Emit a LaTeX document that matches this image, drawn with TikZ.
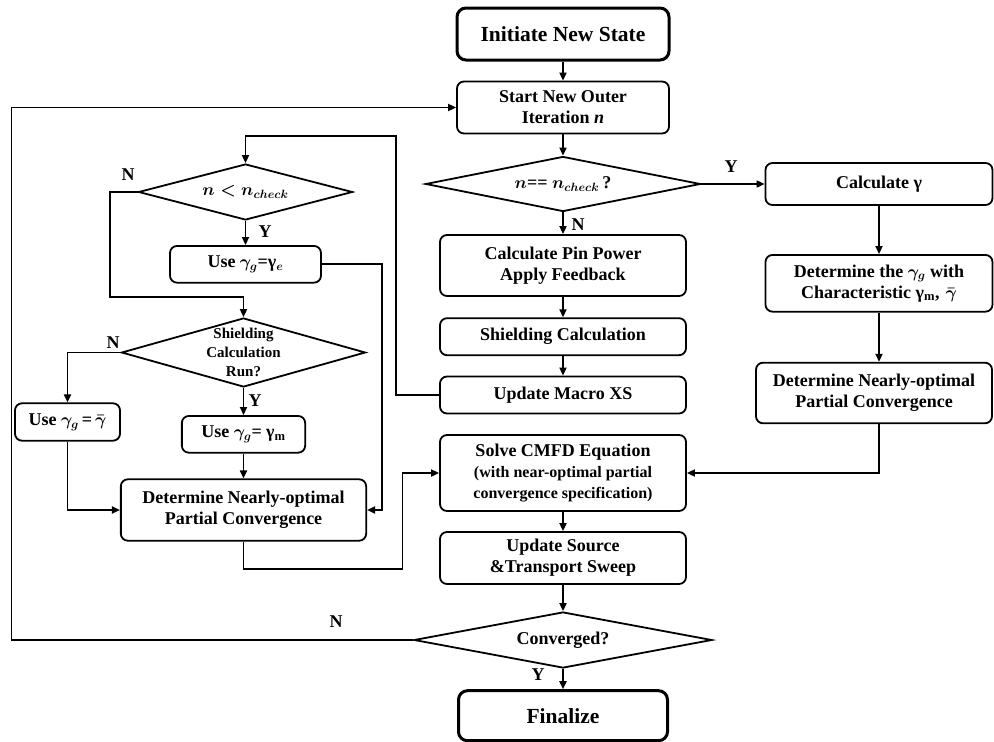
\documentclass[tikz,border=0pt]{standalone}
\usepackage{fontspec}
\setmainfont{Liberation Serif}
\usepackage{amsmath}
\usetikzlibrary{shapes.geometric,arrows.meta}
\begin{document}
\begin{tikzpicture}[x=1pt,y=-1pt,
  box/.style={draw, line width=1.8pt, rounded corners=7pt, align=center, inner sep=0pt,
    font=\fontsize{18}{21}\selectfont\bfseries\boldmath},
  term/.style={box, line width=3pt, rounded corners=9pt,
    font=\fontsize{21.5}{25}\selectfont\bfseries\boldmath},
  dia/.style={draw, line width=1.8pt, diamond, inner sep=0pt},
  diatext/.style={align=center, inner sep=0pt, font=\fontsize{18}{21}\selectfont\bfseries\boldmath},
  lbl/.style={font=\fontsize{18}{21}\selectfont\bfseries},
  arr/.style={line width=1.8pt, -{Triangle[length=8pt,width=7pt]}},
]
\useasboundingbox (0,0) rectangle (994,742);

% centre column
\node[term, minimum width=212, minimum height=52] (init) at (563,34) {Initiate New State};
\node[box, minimum width=212, minimum height=52] (start) at (563,107.5) {Start New Outer\\Iteration \textit{n}};
\node[dia, minimum width=275, minimum height=55] (d1) at (563,184) {};
\node[diatext] (d1t) at (d1) {$n$== $n_{check}$\,?};
\node[box, minimum width=246, minimum height=61] (pin) at (563,265.5) {Calculate Pin Power\\Apply Feedback};
\node[box, minimum width=246, minimum height=37] (shield) at (563,336.7) {Shielding Calculation};
\node[box, minimum width=246, minimum height=37] (macro) at (563,395) {Update Macro XS};
\node[box, minimum width=246, minimum height=76] (cmfd) at (563,473) {Solve CMFD Equation\\\fontsize{16}{19}\selectfont(with near-optimal partial\\\fontsize{16}{19}\selectfont convergence specification)};
\node[box, minimum width=246, minimum height=52] (src) at (563,558) {Update Source\\\&Transport Sweep};
\node[dia, minimum width=298, minimum height=56] (conv) at (563,640) {};
\node[diatext] (convt) at (conv) {Converged?};
\node[term, minimum width=209, minimum height=50] (final) at (563,715.7) {Finalize};

% right column
\node[box, minimum width=227, minimum height=42] (calcg) at (879,184) {Calculate γ};
\node[box, minimum width=227, minimum height=56.7] (detg) at (879,283.3) {Determine the $\gamma_g$ with\\Characteristic γ\textsubscript{m},\,\,$\bar{\gamma}$};
\node[box, minimum width=236, minimum height=60.6] (detr) at (874,393) {Determine Nearly-optimal\\Partial Convergence};

% left column
\node[dia, minimum width=214, minimum height=56] (d2) at (245.5,192) {};
\node[diatext] (d2t) at (d2) {$n < n_{check}$};
\node[box, minimum width=151, minimum height=36.7] (usee) at (245.5,264.3) {Use $\gamma_g$=γ$_{e}$};
\node[dia, minimum width=244, minimum height=69] (d3) at (243.5,352.5) {};
\node[diatext, font=\fontsize{15}{19}\selectfont\bfseries] (d3t) at (d3) {Shielding\\Calculation\\Run?};
\node[box, minimum width=105, minimum height=37.4] (usebar) at (67.5,422) {Use $\gamma_g$\,=\,$\bar{\gamma}$};
\node[box, minimum width=123.3, minimum height=36.7] (usem) at (243.5,434.3) {Use $\gamma_g$= γ\textsubscript{m}};
\node[box, minimum width=245.3, minimum height=61.4] (detl) at (243.5,510) {Determine Nearly-optimal\\Partial Convergence};

% waypoints
\coordinate (loopL) at (11.4,0);
\coordinate (rv) at (396,136);
\coordinate (nv) at (110,296.7);
\coordinate (ev) at (381.7,0);
\coordinate (bl) at (402.5,569);

% connectors
\draw[arr] (init) -- (start);
\draw[arr] (start) -- (d1.north);
\draw[arr] (d1.east) -- (calcg.west);
\draw[arr] (d1.south) -- (pin.north);
\draw[arr] (pin) -- (shield);
\draw[arr] (shield) -- (macro);
\draw[arr] (cmfd) -- (src);
\draw[arr] (src) -- (conv.north);
\draw[arr] (conv.south) -- (final);
\draw[arr] (conv.west) -- (conv.west -| loopL) |- (start.west);

\draw[arr] (calcg) -- (detg);
\draw[arr] (detg.south) -- (detg.south |- detr.north);
\draw[arr] (detr.south -| detg) |- (cmfd.east);

\draw[arr] (macro.west) -| (rv) -| (d2.north);
\draw[arr] (d2.west) -| (nv) -| (d3.north);
\draw[arr] (d2.south) -- (usee.north);
\draw[arr] (usee.east) -- (usee.east -| ev) |- (detl.east);
\draw[arr] (d3.west) -| (usebar.north);
\draw[arr] (d3.south) -- (usem.north);
\draw[arr] (usem) -- (detl);
\draw[arr] (usebar.south) |- (detl.west);
\draw[arr] (detl.south) |- (bl) |- (cmfd.west);

% labels
\node[lbl] (lY1) at (731,167) {Y};
\node[lbl] (lN1) at (578,225) {N};
\node[lbl] (lN2) at (128,175) {N};
\node[lbl] (lY2) at (265,232) {Y};
\node[lbl] (lN3) at (113,343) {N};
\node[lbl] (lY3) at (255,401) {Y};
\node[lbl] (lN4) at (336,622) {N};
\node[lbl] (lY4) at (538,675) {Y};
\end{tikzpicture}
\end{document}
